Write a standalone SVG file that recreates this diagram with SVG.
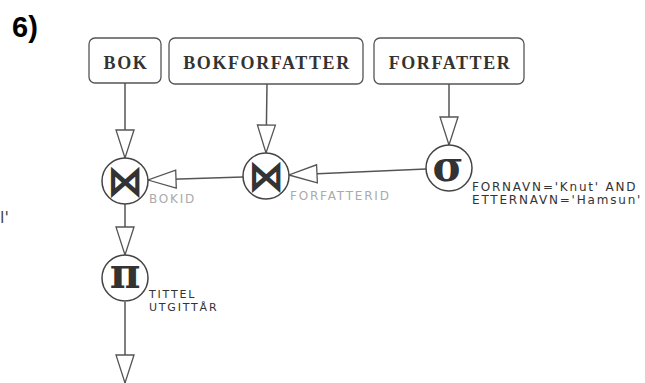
<svg xmlns="http://www.w3.org/2000/svg" width="645" height="383" viewBox="0 0 645 383">
  <style>
    .rel rect { fill: #fff; stroke: #555; stroke-width: 1.3; }
    .rel text { font-family: "Liberation Serif", serif; font-weight: bold; font-size: 18px; letter-spacing: 1.6px; fill: #333; text-anchor: middle; }
    .op circle { fill: #fff; stroke: #444; stroke-width: 1.5; }
    .sym { font-family: "DejaVu Serif", serif; font-weight: bold; fill: #333; text-anchor: middle; }
    .bowtie { font-family: "DejaVu Sans", sans-serif; font-weight: bold; font-size: 30px; fill: #333; text-anchor: middle; }
    .cond { font-family: "DejaVu Sans", sans-serif; font-size: 12px; letter-spacing: 1.8px; fill: #333; }
    .attr { font-family: "DejaVu Sans", sans-serif; font-size: 12px; letter-spacing: 1.8px; fill: #aaa; }
    .proj { font-family: "DejaVu Sans", sans-serif; font-size: 11px; letter-spacing: 1.8px; fill: #333; }
    #edges line { stroke: #555; stroke-width: 1.5; marker-end: url(#head); }
  </style>
  <defs>
    <marker id="head" markerUnits="userSpaceOnUse" markerWidth="32" markerHeight="22" refX="29" refY="10" orient="auto" viewBox="-1 -1 32 22">
      <path d="M1,1 L29,10 L1,19 Z" fill="#fff" stroke="#555" stroke-width="1.3"/>
    </marker>
  </defs>
  <rect width="645" height="383" fill="#fff"/>

  <text x="12" y="37" font-family="Liberation Sans, sans-serif" font-weight="bold" font-size="29" fill="#000">6)</text>
  <text x="0" y="223" font-family="DejaVu Sans, sans-serif" font-size="16" fill="#444">l'</text>

  <!-- connectors -->
  <g id="edges">
    <line x1="125" y1="83" x2="125" y2="158"/>
    <line x1="267" y1="84" x2="266" y2="153"/>
    <line x1="449" y1="84" x2="449" y2="145"/>
    <line x1="426" y1="169" x2="289" y2="175"/>
    <line x1="243" y1="177" x2="148" y2="180"/>
    <line x1="125" y1="204" x2="125" y2="255"/>
    <line x1="125" y1="302" x2="125" y2="383"/>
  </g>

  <!-- base relations -->
  <g id="bok" class="rel">
    <rect x="89" y="38" width="72" height="45" rx="6"/>
    <text x="126" y="69">BOK</text>
  </g>
  <g id="bokforfatter" class="rel">
    <rect x="169" y="38" width="194" height="46" rx="6"/>
    <text x="267" y="69">BOKFORFATTER</text>
  </g>
  <g id="forfatter" class="rel">
    <rect x="374" y="38" width="150" height="46" rx="6"/>
    <text x="450" y="69">FORFATTER</text>
  </g>

  <!-- selection -->
  <g id="select" class="op">
    <circle cx="449" cy="168" r="23"/>
    <text class="sym" x="448" y="181" font-size="42">σ</text>
    <text class="cond" x="472" y="191">FORNAVN='Knut' AND</text>
    <text class="cond" x="472" y="204">ETTERNAVN='Hamsun'</text>
  </g>

  <!-- join on FORFATTERID -->
  <g id="join2" class="op">
    <circle cx="266" cy="176" r="23"/>
    <text class="bowtie" transform="translate(266,176) scale(1.2,1.45)" x="0" y="10">⋈</text>
    <text class="attr" x="290" y="200">FORFATTERID</text>
  </g>

  <!-- join on BOKID -->
  <g id="join1" class="op">
    <circle cx="125" cy="181" r="23"/>
    <text class="bowtie" transform="translate(125,181) scale(1.2,1.45)" x="0" y="10">⋈</text>
    <text class="attr" x="149" y="203">BOKID</text>
  </g>

  <!-- projection -->
  <g id="project" class="op">
    <circle cx="125" cy="278" r="23"/>
    <text class="sym" x="125" y="288" font-size="42">π</text>
    <text class="proj" x="149" y="298">TITTEL</text>
    <text class="proj" x="149" y="311">UTGITTÅR</text>
  </g>
</svg>
